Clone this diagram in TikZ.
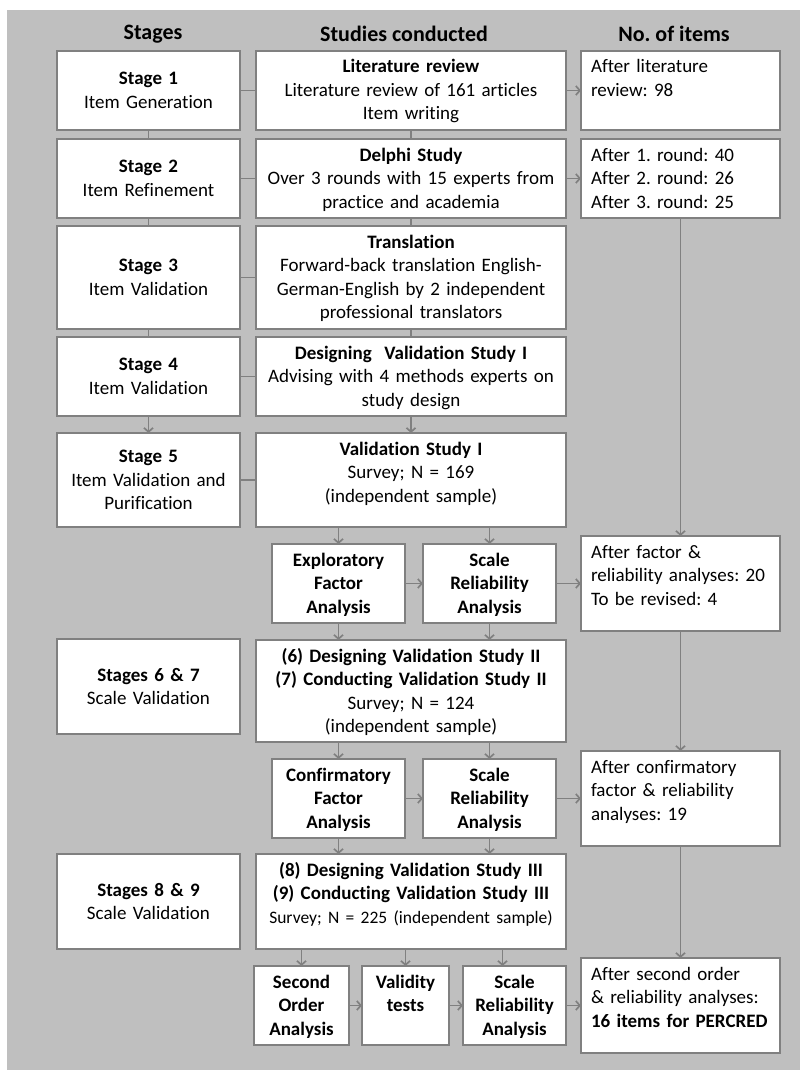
\documentclass[tikz,border=0pt]{standalone}
\usepackage{fontspec}
\setmainfont{Carlito}[Ligatures=NoCommon]
\usepackage{xcolor}
\usepackage{tikz}
\definecolor{bggray}{RGB}{191, 191, 191}
\definecolor{linegray}{RGB}{128, 128, 128}
\usetikzlibrary{arrows.meta, positioning}
\frenchspacing

\begin{document}
\begin{tikzpicture}[
        x=1pt, y=-1pt,
        every node/.style={font=\fontsize{19}{23.5}\selectfont},
        box/.style={rectangle, draw=linegray, line width=1.7pt, fill=white, align=center, inner xsep=6pt, inner ysep=4pt, outer sep=0pt, anchor=north},
        stagebox/.style={box, text width=171pt, minimum height=#1},
        topbox/.style={box, text height=18pt, text depth=#1},
        studybox/.style={topbox=#1, text width=298pt},
        itembox/.style={topbox=#1, align=left, text width=179pt, inner xsep=10pt},
        anbox/.style={topbox=53pt, font=\fontsize{19}{23.5}\selectfont\bfseries},
        head/.style={font=\fontsize{22}{26}\selectfont\bfseries},
        link/.style={line width=1.7pt, color=linegray},
        arrow/.style={link, -{Straight Barb[length=4pt, width=9pt]}}
    ]

        % Background
        \useasboundingbox (0,0) rectangle (800,1070);
        \fill[bggray] (7,10) rectangle (800,1070);

        % Headings
        \node[head] (hstages) at (153,34) {Stages};
        \node[head] (hstudies) at (404,34) {Studies conducted};
        \node[head] (hitems) at (674,34) {No. of items};

        % Stages
        \node[stagebox=79pt] (stage1) at (148.5,51) {\textbf{Stage 1}\\Item Generation};
        \node[stagebox=79pt, below=9pt of stage1] (stage2) {\textbf{Stage 2}\\Item Refinement};
        \node[stagebox=103pt, below=8pt of stage2] (stage3) {\textbf{Stage 3}\\Item Validation};
        \node[stagebox=79pt, below=8pt of stage3] (stage4) {\textbf{Stage 4}\\Item Validation};
        \node[stagebox=94pt, below=17pt of stage4] (stage5) {\textbf{Stage 5}\\Item Validation and\\Purification};
        \node[stagebox=95pt] (stage67) at (148.5,639) {\textbf{Stages 6 \& 7}\\Scale Validation};
        \node[stagebox=95pt] (stage89) at (148.5,854) {\textbf{Stages 8 \& 9}\\Scale Validation};

        % Studies conducted
        \node[studybox=53pt] (study1) at (411,51) {\textbf{Literature review}\\Literature review of 161 articles\\Item writing};
        \node[studybox=53pt, below=9pt of study1] (study2) {\textbf{Delphi Study}\\Over 3 rounds with 15 experts from\\practice and academia};
        \node[studybox=77pt, below=8pt of study2] (study3) {\textbf{Translation}\\Forward-back translation English-\\German-English by 2 independent\\professional translators};
        \node[studybox=53pt, below=8pt of study3] (study4) {\textbf{Designing~ Validation Study I}\\Advising with 4 methods experts on\\study design};
        \node[studybox=68pt, below=17pt of study4] (study5) {\textbf{Validation Study I}\\Survey; N = 169\\(independent sample)};

        \node[anbox, text width=121pt] (efa) at (338.5,544) {Exploratory\\Factor\\Analysis};
        \node[anbox, text width=121pt, right=18pt of efa] (sra1) {Scale\\Reliability\\Analysis};

        \node[studybox=76pt] (study67) at (411,640) {\textbf{(6) Designing Validation Study II}\\\textbf{(7) Conducting Validation Study II}\\Survey; N = 124\\(independent sample)};

        \node[anbox, text width=121pt] (cfa) at (338.5,759) {Confirmatory\\Factor\\Analysis};
        \node[anbox, text width=121pt, right=18pt of cfa] (sra2) {Scale\\Reliability\\Analysis};

        \node[studybox=69pt] (study89) at (411,854) {\textbf{(8) Designing Validation Study III}\\\textbf{(9) Conducting Validation Study III}\\{\fontsize{17.5}{23.5}\selectfont Survey; N = 225 (independent sample)}};

        \node[anbox, text width=83pt] (order) at (301.5,966) {Second\\Order\\Analysis};
        \node[anbox, text width=75pt, right=13pt of order] (valid) {Validity\\tests};
        \node[anbox, text width=91pt, right=14pt of valid] (sra3) {Scale\\Reliability\\Analysis};

        % No. of items
        \node[itembox=53pt] (items1) at (680.5,51) {After literature\\review: 98};
        \node[itembox=53pt, below=9pt of items1] (items2) {After 1. round: 40\\After 2. round: 26\\After 3. round: 25};
        \node[itembox=69pt] (items3) at (680.5,536) {After factor \&\\reliability analyses: 20\\To be revised: 4};
        \node[itembox=69pt] (items4) at (680.5,751) {After confirmatory\\factor \& reliability\\analyses: 19};
        \node[itembox=69pt] (items5) at (680.5,958) {After second order\\\& reliability analyses:\\\textbf{16 items for PERCRED}};

        % Stage column
        \draw[link] (stage1) -- (stage2);
        \draw[link] (stage2) -- (stage3);
        \draw[link] (stage3) -- (stage4);
        \draw[arrow] (stage4) -- (stage5);
        \draw[link] (stage1) -- (study1);
        \draw[link] (stage2) -- (study2);
        \draw[link] (stage3) -- (study3);
        \draw[link] (stage4) -- (study4);
        \draw[link] (stage5) -- (study5);

        % Study column
        \draw[link] (study1) -- (study2);
        \draw[link] (study2) -- (study3);
        \draw[link] (study3) -- (study4);
        \draw[arrow] (study4) -- (study5);
        \draw[arrow] (efa |- study5.south) -- (efa);
        \draw[arrow] (sra1 |- study5.south) -- (sra1);
        \draw[arrow] (efa) -- (sra1);
        \draw[arrow] (efa) -- (efa |- study67.north);
        \draw[arrow] (sra1) -- (sra1 |- study67.north);
        \draw[arrow] (cfa |- study67.south) -- (cfa);
        \draw[arrow] (sra2 |- study67.south) -- (sra2);
        \draw[arrow] (cfa) -- (sra2);
        \draw[arrow] (cfa) -- (cfa |- study89.north);
        \draw[arrow] (sra2) -- (sra2 |- study89.north);
        \draw[arrow] (order |- study89.south) -- (order);
        \draw[arrow] (valid |- study89.south) -- (valid);
        \draw[arrow] ([xshift=-12pt]sra3.north |- study89.south) -- ([xshift=-12pt]sra3.north);
        \draw[arrow] (order) -- (valid);
        \draw[arrow] (valid) -- (sra3);

        % Item counts
        \draw[arrow] (study1) -- (items1);
        \draw[arrow] (study2) -- (items2);
        \draw[arrow] (sra1) -- (items3);
        \draw[arrow] (sra2) -- (items4);
        \draw[arrow] (sra3) -- (items5);
        \draw[arrow] (items2) -- (items3);
        \draw[arrow] (items3) -- (items4);
        \draw[arrow] (items4) -- (items5);

\end{tikzpicture}
\end{document}
